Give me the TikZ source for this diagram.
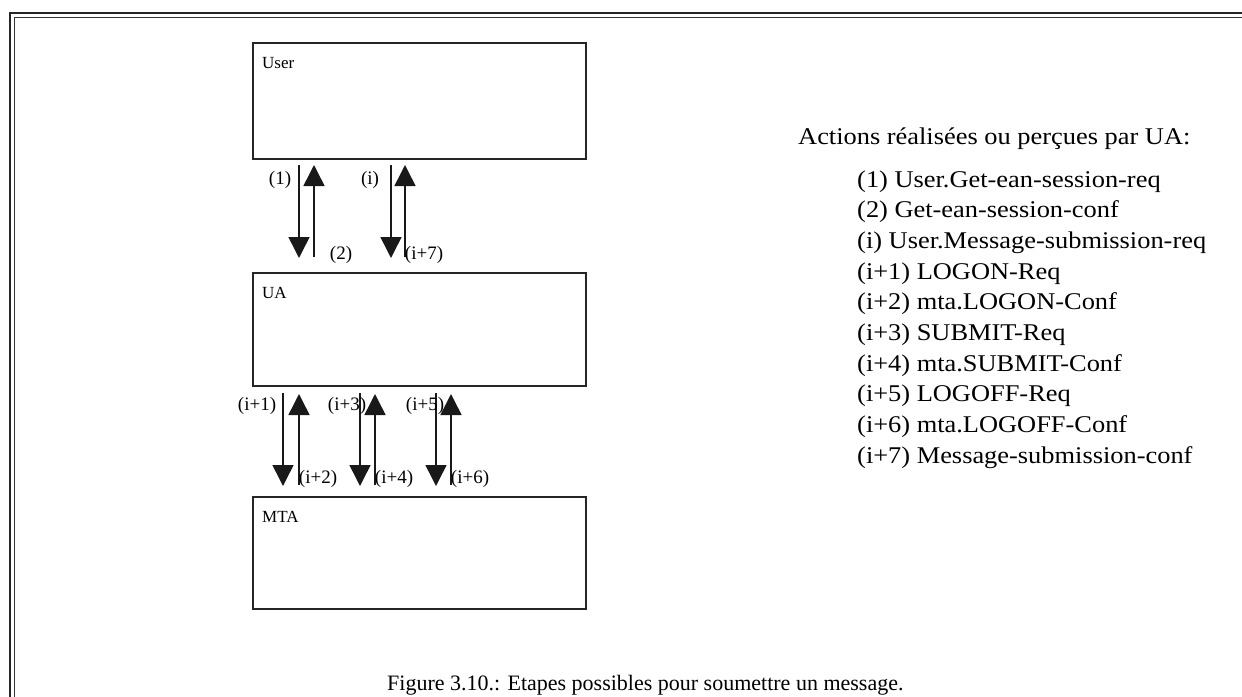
\documentclass[tikz,border=0pt]{standalone}
\usepackage{fontspec}
\setmainfont{Liberation Serif}
\newfontfamily\listfont[FakeStretch=1.1]{Liberation Serif}
\usetikzlibrary{arrows.meta}

\tikzset{
  frameline/.style={line width=2.2pt, draw=black!85},
  entity/.style={draw=black!85, line width=1.6pt},
  entlabel/.style={anchor=base west, inner sep=0pt, font=\fontsize{17}{20}\selectfont},
  msg/.style={line width=1.5pt, draw=black!90, -{Triangle[width=21pt,length=21pt]}},
  tag/.style={inner sep=0pt, font=\fontsize{19}{22}\selectfont},
  listline/.style={anchor=base west, inner sep=0pt, font=\listfont\fontsize{24}{28}\selectfont},
}

\begin{document}
\begin{tikzpicture}[x=1pt,y=-1pt]
\useasboundingbox (0,0) rectangle (1242,696);
\fill[white] (0,0) rectangle (1242,696);

% double frame, open to the right and bottom
\draw[frameline] (10,800) -- (10,13) -- (1300,13);
\draw[line width=1.4pt, draw=black!80] (14.5,800) -- (14.5,17.5) -- (1300,17.5);

% the three entities
\draw[entity] (253,43) rectangle (586,159);
\node[entlabel] (user) at (262,68) {User};
\draw[entity] (253,273) rectangle (586,386);
\node[entlabel] (ua) at (262,298) {UA};
\draw[entity] (253,497) rectangle (586,609);
\node[entlabel] (mta) at (262,522) {MTA};

% User <-> UA exchanges
\coordinate (a1) at (299,165); \coordinate (a1e) at (299,258);
\coordinate (a2) at (314,257); \coordinate (a2e) at (314,165);
\coordinate (ai) at (391,165); \coordinate (aie) at (391,258);
\coordinate (a7) at (405,257); \coordinate (a7e) at (405,165);
\draw[msg] (a1) -- (a1e);
\draw[msg] (a2) -- (a2e);
\draw[msg] (ai) -- (aie);
\draw[msg] (a7) -- (a7e);
\node[tag] (t1) at (280,180) {(1)};
\node[tag] (ti) at (370,180) {(i)};
\node[tag] (t2) at (341,255) {(2)};
\node[tag] (t7) at (424,255) {(i+7)};

% UA <-> MTA exchanges
\coordinate (b1) at (283,393); \coordinate (b1e) at (283,486);
\coordinate (b2) at (299,485); \coordinate (b2e) at (299,394);
\coordinate (b3) at (360,393); \coordinate (b3e) at (360,486);
\coordinate (b4) at (375,485); \coordinate (b4e) at (375,394);
\coordinate (b5) at (436,393); \coordinate (b5e) at (436,486);
\coordinate (b6) at (451,485); \coordinate (b6e) at (451,394);
\foreach \s in {b1,b2,b3,b4,b5,b6} \draw[msg] (\s) -- (\s e);
\node[tag] (t11) at (257,406) {(i+1)};
\node[tag] (t13) at (347,406) {(i+3)};
\node[tag] (t15) at (425,406) {(i+5)};
\node[tag] (t12) at (318,479) {(i+2)};
\node[tag] (t14) at (394,479) {(i+4)};
\node[tag] (t16) at (470,479) {(i+6)};

% legend
\node[listline] (head) at (798,144) {Actions réalisées ou perçues par UA:};
\foreach \t [count=\k from 0] in {
  {(1) User.Get-ean-session-req},
  {(2) Get-ean-session-conf},
  {(i) User.Message-submission-req},
  {(i+1) LOGON-Req},
  {(i+2) mta.LOGON-Conf},
  {(i+3) SUBMIT-Req},
  {(i+4) mta.SUBMIT-Conf},
  {(i+5) LOGOFF-Req},
  {(i+6) mta.LOGOFF-Conf},
  {(i+7) Message-submission-conf}}
  \node[listline] (l\k) at (857,{187+30.67*\k}) {\t};

% caption
\node[anchor=base west, inner sep=0pt, font=\fontsize{22}{26}\selectfont] (cap) at (387,690)
  {Figure 3.10.: Etapes possibles pour soumettre un message.};
\end{tikzpicture}
\end{document}
